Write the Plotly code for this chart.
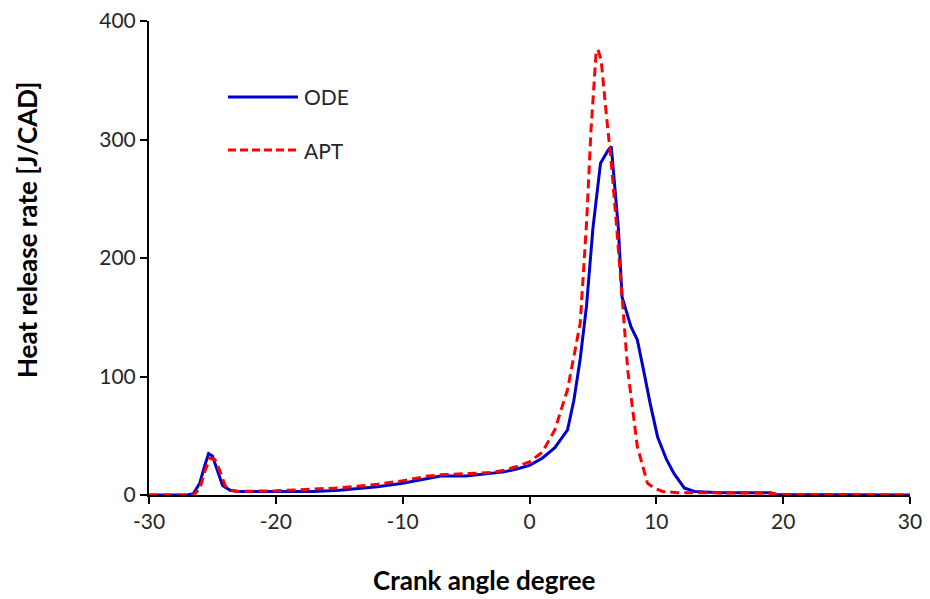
import plotly.graph_objects as go

ode_x = [-30, -27, -26.5, -26, -25.6, -25.3, -25.0, -24.6, -24.2, -23.6, -23, -20, -17, -15, -12, -10, -8, -7, -5, -3, -2, -1, 0, 1, 2, 3, 3.5, 4, 4.5, 5, 5.6, 6.2, 6.45, 7.0, 7.3, 8.0, 8.5, 9.0, 9.5, 10.1, 10.8, 11.4, 12.2, 13, 15, 19, 19.5, 30]
ode_y = [0, 0, 1, 10, 25, 35, 33, 20, 8, 4, 3, 3, 3, 4, 7, 10, 14, 16, 16, 18, 19.5, 22, 25, 31, 40, 55, 80, 115, 160, 225, 280, 291, 294, 226, 167, 142, 131, 105, 78, 49, 30, 18, 6, 3, 2, 2, 0.5, 0]

apt_x = [-30, -26.5, -26, -25.6, -25.2, -24.8, -24.4, -24, -23.5, -23, -20, -17, -15, -12, -10, -8, -7, -5, -3, -2, -1, 0, 1, 2, 3, 4, 4.5, 4.85, 5.25, 5.4, 5.65, 6.05, 6.45, 6.85, 7.2, 7.75, 8.5, 9.3, 9.8, 10.5, 11.7, 15, 19, 19.5, 30]
apt_y = [0, 0, 5, 20, 31, 30, 20, 8, 4, 3, 3.5, 5, 6, 9, 12, 16, 17, 18, 19, 21, 24, 28, 36, 55, 89, 145, 230, 308, 373, 376, 367, 322, 280, 229, 180, 105, 41, 10, 6, 3, 2, 1.5, 1.5, 0.5, 0]

x_ticks = [-30, -20, -10, 0, 10, 20, 30]
y_ticks = [0, 100, 200, 300, 400]

series_names = ["ODE", "APT"]
series_colors = ["#0000CC", "#FF0000"]
series_dash = ["solid", "9px,5px"]

x_title = "Crank angle degree"
y_title = "Heat release rate [J/CAD]"

FONT = "Lato, 'Open Sans', sans-serif"

fig = go.Figure()
fig.add_trace(go.Scatter(x=ode_x, y=ode_y, mode="lines", name=series_names[0],
                         line=dict(color=series_colors[0], width=3)))
fig.add_trace(go.Scatter(x=apt_x, y=apt_y, mode="lines", name=series_names[1],
                         line=dict(color=series_colors[1], width=3, dash=series_dash[1])))

# manual legend (long line samples as in the original)
leg_y = [0.8397, 0.7278]
for name, col, dash, yy in zip(series_names, series_colors, series_dash, leg_y):
    fig.add_shape(type="line", xref="paper", yref="paper", x0=0.1038, x1=0.1958, y0=yy, y1=yy,
                  line=dict(color=col, width=3, dash="8px,4px" if dash != "solid" else "solid"))
    fig.add_annotation(xref="paper", yref="paper", x=0.2010, y=yy, text=name, showarrow=False,
                       xanchor="left", yanchor="middle", font=dict(size=21, color="#262626"))

# axis titles placed like the original
fig.add_annotation(xref="paper", yref="paper", x=0.4415, y=-0.179, text="<b>%s</b>" % x_title,
                   showarrow=False, xanchor="center", yanchor="middle",
                   font=dict(size=26, color="black"))
fig.add_annotation(xref="paper", yref="paper", x=-0.1603, y=0.559, text="<b>%s</b>" % y_title,
                   showarrow=False, xanchor="center", yanchor="middle", textangle=-90,
                   font=dict(size=26, color="black"))

fig.update_layout(
    width=930, height=599,
    margin=dict(l=141, r=28, t=13, b=112),
    paper_bgcolor="white", plot_bgcolor="white",
    font=dict(family=FONT, size=21, color="#262626"),
    showlegend=False,
    xaxis=dict(range=[-30, 30], tickvals=x_ticks, ticktext=[str(v) for v in x_ticks],
               showgrid=False, zeroline=False, showline=True, linecolor="black", linewidth=2,
               ticks="outside", ticklen=7, tickwidth=2, tickcolor="black", automargin=False,
               ticklabeloverflow="allow",
               tickfont=dict(size=21, color="#262626")),
    yaxis=dict(range=[0, 400], tickvals=y_ticks, ticktext=[str(v) for v in y_ticks],
               showgrid=False, zeroline=False, showline=True, linecolor="black", linewidth=2,
               ticks="outside", ticklen=7, tickwidth=2, tickcolor="black", automargin=False,
               ticklabeloverflow="allow",
               tickfont=dict(size=21, color="#262626")),
)

fig.write_html("out.html")
